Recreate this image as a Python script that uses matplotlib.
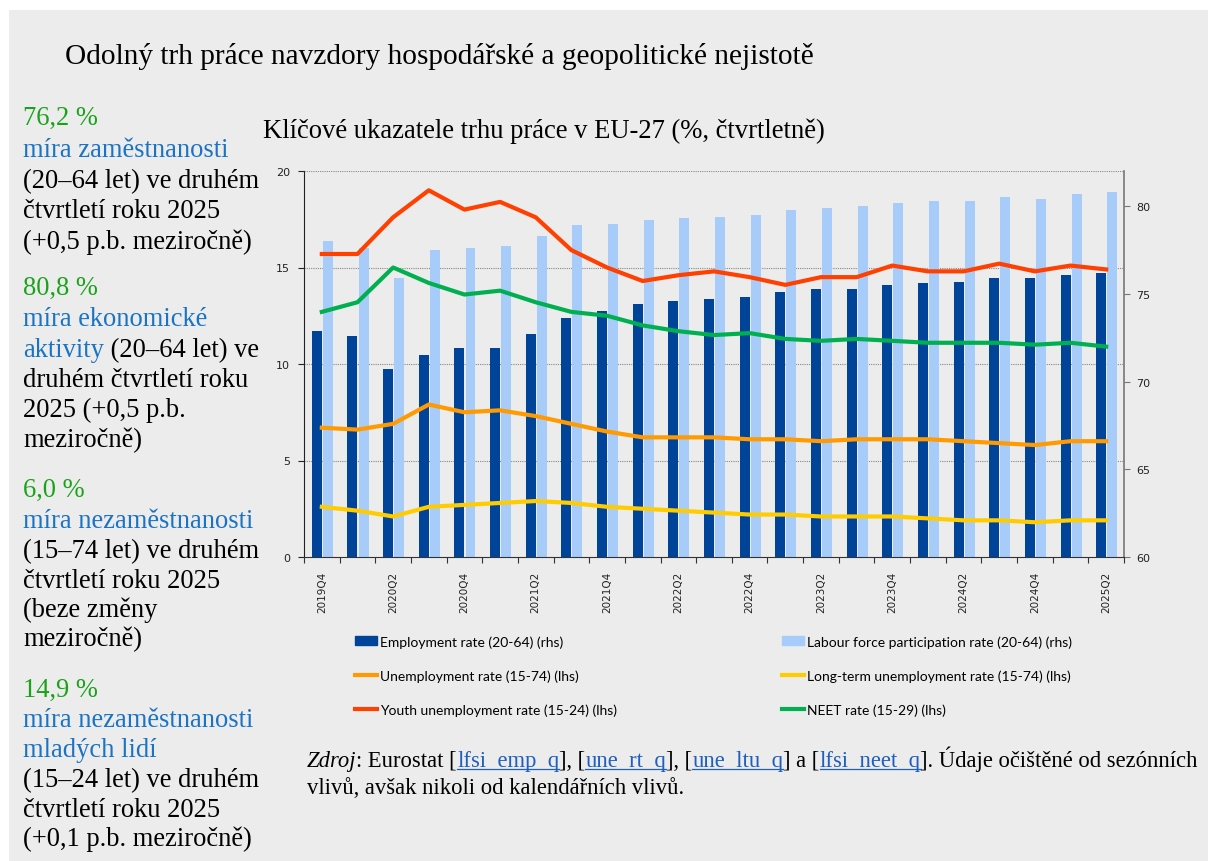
import matplotlib
matplotlib.use('Agg')
import matplotlib.pyplot as plt
from matplotlib.patches import Rectangle, Patch
from matplotlib.lines import Line2D
import numpy as np

# Data (EU-27, quarterly, %)
quarters = ['2019Q4', '2020Q1', '2020Q2', '2020Q3', '2020Q4', '2021Q1', '2021Q2',
            '2021Q3', '2021Q4', '2022Q1', '2022Q2', '2022Q3', '2022Q4', '2023Q1',
            '2023Q2', '2023Q3', '2023Q4', '2024Q1', '2024Q2', '2024Q3', '2024Q4',
            '2025Q1', '2025Q2']
employment = [72.9, 72.6, 70.7, 71.5, 71.9, 71.9, 72.7, 73.6, 74.0, 74.4, 74.6, 74.7,
              74.8, 75.1, 75.3, 75.3, 75.5, 75.6, 75.7, 75.9, 75.9, 76.1, 76.2]
participation = [78.0, 77.6, 75.9, 77.5, 77.6, 77.7, 78.3, 78.9, 79.0, 79.2, 79.3, 79.4,
                 79.5, 79.8, 79.9, 80.0, 80.2, 80.3, 80.3, 80.5, 80.4, 80.7, 80.8]
unemployment = [6.7, 6.6, 6.9, 7.9, 7.5, 7.6, 7.3, 6.9, 6.5, 6.2, 6.2, 6.2,
                6.1, 6.1, 6.0, 6.1, 6.1, 6.1, 6.0, 5.9, 5.8, 6.0, 6.0]
long_term = [2.6, 2.4, 2.1, 2.6, 2.7, 2.8, 2.9, 2.8, 2.6, 2.5, 2.4, 2.3,
             2.2, 2.2, 2.1, 2.1, 2.1, 2.0, 1.9, 1.9, 1.8, 1.9, 1.9]
youth = [15.7, 15.7, 17.6, 19.0, 18.0, 18.4, 17.6, 15.9, 15.0, 14.3, 14.6, 14.8,
         14.5, 14.1, 14.5, 14.5, 15.1, 14.8, 14.8, 15.2, 14.8, 15.1, 14.9]
neet = [12.7, 13.2, 15.0, 14.2, 13.6, 13.8, 13.2, 12.7, 12.5, 12.0, 11.7, 11.5,
        11.6, 11.3, 11.2, 11.3, 11.2, 11.1, 11.1, 11.1, 11.0, 11.1, 10.9]

W, H = 1208, 862
BG = '#ececec'
GREEN = '#1aa31a'
BLUE = '#1a73c4'
SERIF = ['Liberation Serif', 'DejaVu Serif']

fig = plt.figure(figsize=(W / 100, H / 100), dpi=100, facecolor='white')

# background layer in pixel coordinates
bg = fig.add_axes([0, 0, 1, 1], zorder=-5)
bg.set_xlim(0, W)
bg.set_ylim(H, 0)
bg.axis('off')
bg.add_patch(Rectangle((9, 11), W, H, facecolor=BG, edgecolor='none'))

renderer = fig.canvas.get_renderer()


def put_line(x, y, segs, size, **kw):
    # draws text pieces one after another on the same baseline
    out = []
    for s, c in segs:
        t = bg.text(x, y, s, color=c, fontsize=size, family=SERIF, va='baseline', ha='left', **kw)
        bb = t.get_window_extent(renderer)
        out.append((t, x, bb.x1))
        x = bb.x1
    return out


fig.text(65 / W, 1 - 57 / H, 'Odolný trh práce navzdory hospodářské a geopolitické nejistotě',
         fontsize=21.2, family=SERIF, va='center', ha='left')
fig.text(263 / W, 1 - 131 / H, 'Klíčové ukazatele trhu práce v EU-27 (%, čtvrtletně)',
         fontsize=19.2, family=SERIF, va='center', ha='left')

# side panel
K = 'black'
side = [
    (124, [('76,2 %', GREEN)]),
    (156, [('míra zaměstnanosti', BLUE)]),
    (187, [('(20–64 let) ve druhém', K)]),
    (217, [('čtvrtletí roku 2025', K)]),
    (248, [('(+0,5 p.b. meziročně)', K)]),
    (294, [('80,8 %', GREEN)]),
    (325, [('míra ekonomické', BLUE)]),
    (356, [('aktivity', BLUE), (' (20–64 let) ve', K)]),
    (386, [('druhém čtvrtletí roku', K)]),
    (416, [('2025 (+0,5 p.b.', K)]),
    (446, [('meziročně)', K)]),
    (496, [('6,0 %', GREEN)]),
    (527, [('míra nezaměstnanosti', BLUE)]),
    (557, [('(15–74 let) ve druhém', K)]),
    (587, [('čtvrtletí roku 2025', K)]),
    (616, [('(beze změny', K)]),
    (645, [('meziročně)', K)]),
    (696, [('14,9 %', GREEN)]),
    (726, [('míra nezaměstnanosti', BLUE)]),
    (756, [('mladých lidí', BLUE)]),
    (786, [('(15–24 let) ve druhém', K)]),
    (816, [('čtvrtletí roku 2025', K)]),
    (845, [('(+0,1 p.b. meziročně)', K)]),
]
for y, segs in side:
    put_line(23, y + 1, segs, 19.1)

# source note
LINK = '#1f5fbf'
src1 = [('Zdroj', K), (': Eurostat [', K), ('lfsi_emp_q', LINK), ('], [', K),
        ('une_rt_q', LINK), ('], [', K), ('une_ltu_q', LINK), ('] a [', K),
        ('lfsi_neet_q', LINK), (']. Údaje očištěné od sezónních', K)]
x = 307
for s, c in src1:
    style = 'italic' if s == 'Zdroj' else 'normal'
    (t, x0, x1), = put_line(x, 767, [(s, c)], 16.3, style=style)
    if c == LINK:
        bg.plot([x0, x1], [770, 770], color=LINK, lw=0.9)
    x = x1
put_line(307, 794, [('vlivů, avšak nikoli od kalendářních vlivů.', K)], 16.3)

# chart
ax = fig.add_axes([304 / W, 1 - 558 / H, 820 / W, 386 / H])
ax2 = ax.twinx()
ax.set_zorder(ax2.get_zorder() + 1)
ax.patch.set_visible(False)
ax2.patch.set_visible(False)

xs = np.arange(len(quarters))
bw = 0.28
ax2.bar(xs - bw / 2, employment, width=bw, color='#00449a', zorder=3)
ax2.bar(xs + bw / 2 + 0.03, participation, width=bw, color='#a8ccfa', zorder=3)
ax2.set_ylim(60, 82)
ax2.set_yticks([60, 65, 70, 75, 80])

ax.plot(xs, unemployment, color='#ff9a00', lw=3)
ax.plot(xs, long_term, color='#ffcc00', lw=3)
ax.plot(xs, youth, color='#ff4000', lw=3)
ax.plot(xs, neet, color='#00b050', lw=3)
ax.set_ylim(0, 20)
ax.set_yticks([0, 5, 10, 15, 20])
ax.set_xlim(-0.5, len(quarters) - 0.5)

# dotted gridlines behind the bars
for v in [5, 10, 15, 20]:
    ax2.axhline(60 + v * 22 / 20, color='#888888', lw=0.8, ls=(0, (1, 1)), zorder=1)

ax.set_xticks(np.arange(len(quarters) + 1) - 0.5)
ax.set_xticklabels([])
ax.set_xticks(xs[::2], minor=True)
ax.set_xticklabels(quarters[::2], minor=True, rotation=90, fontsize=7.5, color='#222222')
ax.tick_params(axis='x', which='major', length=4, direction='out', color='#333333')
ax.tick_params(axis='x', which='minor', length=0, pad=10)
ax.tick_params(axis='y', length=4, direction='out', labelsize=8, pad=6, colors='#222222')
ax2.tick_params(axis='y', length=4, direction='out', labelsize=8, pad=5, colors='#222222',
                color='#777777')

for a in (ax, ax2):
    a.spines['top'].set_visible(False)
ax.spines['left'].set_color('#222222')
ax.spines['bottom'].set_color('#333333')
ax.spines['right'].set_visible(False)
ax2.spines['left'].set_visible(False)
ax2.spines['bottom'].set_visible(False)
ax2.spines['right'].set_color('#777777')
ax2.spines['right'].set_linewidth(1.2)

# legend
lp = {'family': ['Lato', 'DejaVu Sans'], 'size': 10}
h1 = [Patch(color='#00449a'), Line2D([], [], color='#ff9a00', lw=3),
      Line2D([], [], color='#ff4000', lw=3)]
l1 = ['Employment rate (20-64) (rhs)', 'Unemployment rate (15-74) (lhs)',
      'Youth unemployment rate (15-24) (lhs)']
h2 = [Patch(color='#a8ccfa'), Line2D([], [], color='#ffcc00', lw=3),
      Line2D([], [], color='#00b050', lw=3)]
l2 = ['Labour force participation rate (20-64) (rhs)', 'Long-term unemployment rate (15-74) (lhs)',
      'NEET rate (15-29) (lhs)']
for hs, ls, x0 in [(h1, l1, 355), (h2, l2, 782)]:
    fig.legend(hs, ls, loc='upper left', bbox_to_anchor=(x0 / W, 1 - 636 / H), frameon=False,
               prop=lp, handlelength=1.6, handleheight=0.55, handletextpad=0.2, labelspacing=1.55,
               borderaxespad=0, borderpad=0)

fig.savefig('out.png', dpi=100, facecolor='white')
